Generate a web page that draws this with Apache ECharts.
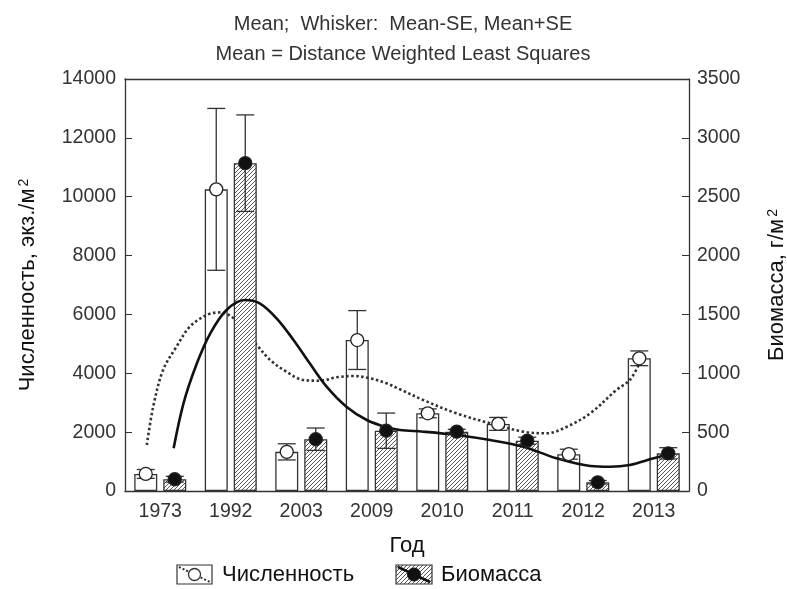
<!DOCTYPE html>
<html><head><meta charset="utf-8">
<script src="https://cdn.jsdelivr.net/npm/echarts@6/dist/echarts.min.js"></script>
<style>html,body{margin:0;padding:0;background:#fff}#c{width:787px;height:589px}</style>
</head><body><div id="c"></div>
<script>
const categories = ['1973','1992','2003','2009','2010','2011','2012','2013'];
const abundanceMean = [580, 10250, 1330, 5130, 2640, 2280, 1250, 4510];
const abundanceSE   = [150, 2750, 275, 1000, 150, 220, 170, 250];
const biomassMean   = [100, 2785, 440, 512, 504, 427, 74, 320];
const biomassSE     = [25, 410, 95, 150, 20, 30, 15, 48];
// Distance weighted least squares fits, sampled (x in category-index units)
const abundanceFitX = [-0.19,-0.10,0.04,0.23,0.42,0.66,0.85,1.04,1.2,1.37,1.56,1.79,2.03,2.27,2.50,2.74,2.97,3.21,3.40,3.73,4.20,4.68,5.15,5.48,5.77,6.10,6.47,6.66,6.79];
const abundanceFitY = [1563,2865,4111,4903,5583,5980,6070,5868,5450,4961,4451,4054,3772,3748,3864,3908,3830,3660,3456,3092,2640,2300,2015,1960,2185,2640,3432,3772,4300];
const biomassFitX = [0.19,0.33,0.52,0.71,0.94,1.20,1.41,1.65,1.89,2.12,2.36,2.64,2.93,3.21,3.40,3.73,4.20,4.68,5.15,5.62,6.10,6.38,6.66,7.0,7.28];
const biomassFitY = [363,745,1085,1340,1538,1622,1594,1467,1283,1085,886,716,603,541,518,504,476,433,376,278,212,206,221,278,320];

const FONT = '"Liberation Sans", Arial, sans-serif';
const BAR_W = 23, BAR_GAP_PX = 6, CAP = 18;
const OFFSET_PX = (BAR_W + BAR_GAP_PX) / 2;

function makeHatch(){
  const c = document.createElement('canvas'); c.width = 4; c.height = 4;
  const g = c.getContext('2d');
  g.fillStyle = '#fff'; g.fillRect(0,0,4,4);
  g.strokeStyle = '#444'; g.lineWidth = 0.9;
  g.beginPath();
  g.moveTo(0,4); g.lineTo(4,0);
  g.moveTo(-1,1); g.lineTo(1,-1);
  g.moveTo(3,5); g.lineTo(5,3);
  g.stroke();
  return c;
}
const hatch = makeHatch();

function errRender(sign){
  return function(params, api){
    const i = api.value(0), m = api.value(1), se = api.value(2);
    const top = api.coord([i, m + se]), bot = api.coord([i, m - se]);
    const x = top[0] + sign * OFFSET_PX, hw = CAP / 2;
    const st = {stroke:'#333', lineWidth:1.3};
    return {type:'group', children:[
      {type:'line', shape:{x1:x,y1:top[1],x2:x,y2:bot[1]}, style:st},
      {type:'line', shape:{x1:x-hw,y1:top[1],x2:x+hw,y2:top[1]}, style:st},
      {type:'line', shape:{x1:x-hw,y1:bot[1],x2:x+hw,y2:bot[1]}, style:st}
    ]};
  };
}
function ptRender(sign, fill){
  return function(params, api){
    const p = api.coord([api.value(0), api.value(1)]);
    return {type:'circle', shape:{cx:p[0] + sign*OFFSET_PX, cy:p[1], r:6.5},
      style:{fill:fill, stroke:'#222', lineWidth:1.3}};
  };
}

const chart = echarts.init(document.getElementById('c'), null, {renderer:'canvas'});
const tickLabel = {color:'#333', fontSize:19.5, fontFamily:FONT, formatter:v=>String(v)};
const nameStyle = {color:'#111', fontSize:22, fontFamily:FONT,
  rich:{sup:{fontSize:14, fontFamily:FONT, color:'#111', verticalAlign:'top', padding:[0,0,8,2]}}};

chart.setOption({
  animation:false,
  backgroundColor:'#fff',
  title:{text:'Mean;  Whisker:  Mean-SE, Mean+SE\nMean = Distance Weighted Least Squares',
    left:398, textAlign:'center', top:4,
    textStyle:{fontSize:20, fontWeight:'normal', color:'#333', fontFamily:FONT, lineHeight:30}},
  grid:{left:125, right:98, top:79, bottom:98, containLabel:false, outerBoundsMode:'none'},
  xAxis:[
    {type:'category', data:categories, boundaryGap:true,
      axisLine:{onZero:false, lineStyle:{color:'#333', width:1.3}},
      axisTick:{inside:true, alignWithLabel:true, length:5, lineStyle:{color:'#333'}},
      axisLabel:{color:'#333', fontSize:19.5, fontFamily:FONT, margin:11},
      name:'Год', nameLocation:'middle', nameGap:44, nameTextStyle:nameStyle},
    {type:'value', min:-0.5, max:7.5, position:'top',
      axisLine:{show:true, onZero:false, lineStyle:{color:'#333', width:1.3}},
      axisTick:{show:false}, axisLabel:{show:false}, splitLine:{show:false}}
  ],
  yAxis:[
    {type:'value', min:0, max:14000, interval:2000, position:'left',
      axisLine:{show:true, onZero:false, lineStyle:{color:'#333', width:1.3}},
      axisTick:{show:true, inside:true, length:7, lineStyle:{color:'#333'}},
      axisLabel:{...tickLabel, margin:9}, splitLine:{show:false},
      name:'Численность, экз./м{sup|2}', nameLocation:'middle', nameRotate:90, nameGap:86,
      nameTextStyle:nameStyle},
    {type:'value', min:0, max:3500, interval:500, position:'right',
      axisLine:{show:true, onZero:false, lineStyle:{color:'#333', width:1.3}},
      axisTick:{show:true, inside:true, length:7, lineStyle:{color:'#333'}},
      axisLabel:{...tickLabel, margin:8}, splitLine:{show:false},
      name:'Биомасса, г/м{sup|2}', nameLocation:'middle', nameRotate:90, nameGap:77,
      nameTextStyle:nameStyle}
  ],
  series:[
    {name:'Численность', type:'bar', xAxisIndex:0, yAxisIndex:0, z:1,
      data:abundanceMean, barWidth:BAR_W, barGap:(BAR_GAP_PX/BAR_W*100)+'%',
      itemStyle:{color:'#fff', borderColor:'#333', borderWidth:1.3}},
    {name:'fitA', type:'line', xAxisIndex:1, yAxisIndex:0, z:2, smooth:0.35, symbol:'none',
      data:abundanceFitX.map((x,k)=>[x, abundanceFitY[k]]),
      lineStyle:{color:'#333', width:2.6, type:[2.5,2.5]}},
    {name:'Биомасса', type:'bar', xAxisIndex:0, yAxisIndex:1, z:3,
      data:biomassMean, barWidth:BAR_W,
      itemStyle:{color:{image:hatch, repeat:'repeat'}, borderColor:'#333', borderWidth:1.3}},
    {name:'fitB', type:'line', xAxisIndex:1, yAxisIndex:1, z:4, smooth:0.35, symbol:'none',
      data:biomassFitX.map((x,k)=>[x, biomassFitY[k]]),
      lineStyle:{color:'#111', width:2.6}},
    {type:'custom', xAxisIndex:0, yAxisIndex:0, z:5, renderItem:errRender(-1),
      data:abundanceMean.map((m,i)=>[i, m, abundanceSE[i]])},
    {type:'custom', xAxisIndex:0, yAxisIndex:1, z:5, renderItem:errRender(1),
      data:biomassMean.map((m,i)=>[i, m, biomassSE[i]])},
    {type:'custom', xAxisIndex:0, yAxisIndex:0, z:6, renderItem:ptRender(-1,'#fff'),
      data:abundanceMean.map((m,i)=>[i, m])},
    {type:'custom', xAxisIndex:0, yAxisIndex:1, z:6, renderItem:ptRender(1,'#111'),
      data:biomassMean.map((m,i)=>[i, m])}
  ],
  graphic:[
    {type:'rect', shape:{x:177, y:565, width:35, height:19}, style:{fill:'#fff', stroke:'#333', lineWidth:1.2}},
    {type:'line', shape:{x1:179, y1:567, x2:210, y2:582}, style:{stroke:'#333', lineWidth:2, lineDash:[2,2]}},
    {type:'circle', shape:{cx:194.5, cy:574.5, r:6}, style:{fill:'#fff', stroke:'#333', lineWidth:1.3}},
    {type:'text', x:222, y:574.5, style:{text:'Численность', fontSize:22, fontFamily:FONT, fill:'#111', verticalAlign:'middle'}},
    {type:'rect', shape:{x:396, y:565, width:36, height:19}, style:{fill:{image:hatch, repeat:'repeat'}, stroke:'#333', lineWidth:1.2}},
    {type:'line', shape:{x1:398, y1:567, x2:430, y2:582}, style:{stroke:'#111', lineWidth:2.5}},
    {type:'circle', shape:{cx:414, cy:574.5, r:6.5}, style:{fill:'#111', stroke:'#111'}},
    {type:'text', x:441, y:574.5, style:{text:'Биомасса', fontSize:22, fontFamily:FONT, fill:'#111', verticalAlign:'middle'}}
  ]
});
</script></body></html>
